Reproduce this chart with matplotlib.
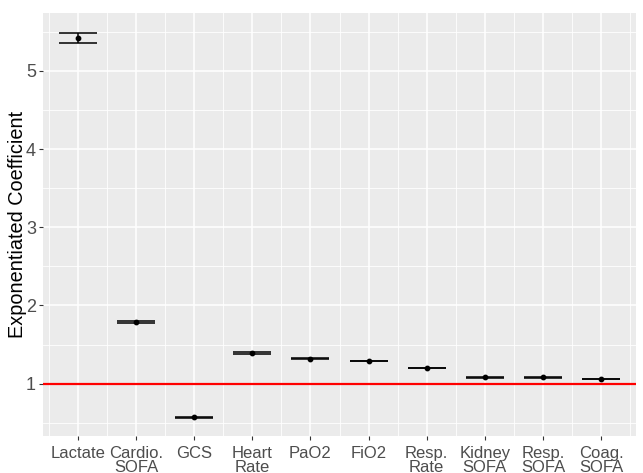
import numpy as np
import matplotlib.pyplot as plt

plt.rcParams['font.family'] = ['Liberation Sans', 'DejaVu Sans']

# Estimates
labels = ['Lactate', 'Cardio.\nSOFA', 'GCS', 'Heart\nRate', 'PaO2', 'FiO2',
          'Resp.\nRate', 'Kidney\nSOFA', 'Resp.\nSOFA', 'Coag.\nSOFA']
estimate = [5.42, 1.79, 0.57, 1.39, 1.32, 1.29, 1.20, 1.08, 1.08, 1.06]
lower = [5.35, 1.78, 0.565, 1.38, 1.315, 1.285, 1.195, 1.075, 1.075, 1.055]
upper = [5.49, 1.80, 0.575, 1.40, 1.325, 1.295, 1.205, 1.085, 1.085, 1.065]

x = np.arange(1, len(labels) + 1)
est = np.array(estimate)

fig = plt.figure(figsize=(6.43, 4.73), dpi=100)
ax = fig.add_axes([43 / 643, 37 / 473, 593 / 643, 423 / 473])
ax.set_facecolor('#EBEBEB')

# grid (ggplot style)
for v in np.arange(0.5, 11, 1):
    ax.axvline(v, color='white', lw=0.6, zorder=0)
for v in x:
    ax.axvline(v, color='white', lw=1.1, zorder=0)
for v in np.arange(0.5, 6, 1):
    ax.axhline(v, color='white', lw=0.6, zorder=0)
for v in range(1, 6):
    ax.axhline(v, color='white', lw=1.1, zorder=0)

ax.axhline(1, color='#FF0000', lw=1.6, zorder=2)

ax.errorbar(x, est, yerr=[est - np.array(lower), np.array(upper) - est],
            fmt='none', ecolor='black', elinewidth=1.1, capsize=14,
            capthick=1.1, zorder=3)
ax.scatter(x, est, s=10, color='black', zorder=4)

ax.set_xlim(0.4, 10.6)
ax.set_ylim(0.33, 5.74)
ax.set_xticks(x)
ax.set_xticklabels(labels, fontsize=12, color='#4D4D4D', linespacing=0.9)
ax.set_yticks([1, 2, 3, 4, 5])
ax.set_yticklabels(['1', '2', '3', '4', '5'], fontsize=13, color='#4D4D4D')
ax.tick_params(axis='both', length=3, color='#333333', width=0.8, pad=2)
ax.tick_params(axis='x', pad=4)
ax.set_ylabel('Exponentiated Coefficient', fontsize=14.3, color='black')
ax.yaxis.set_label_coords(-0.027, 0.5)
for s in ax.spines.values():
    s.set_visible(False)

fig.savefig('out.png', dpi=100)
